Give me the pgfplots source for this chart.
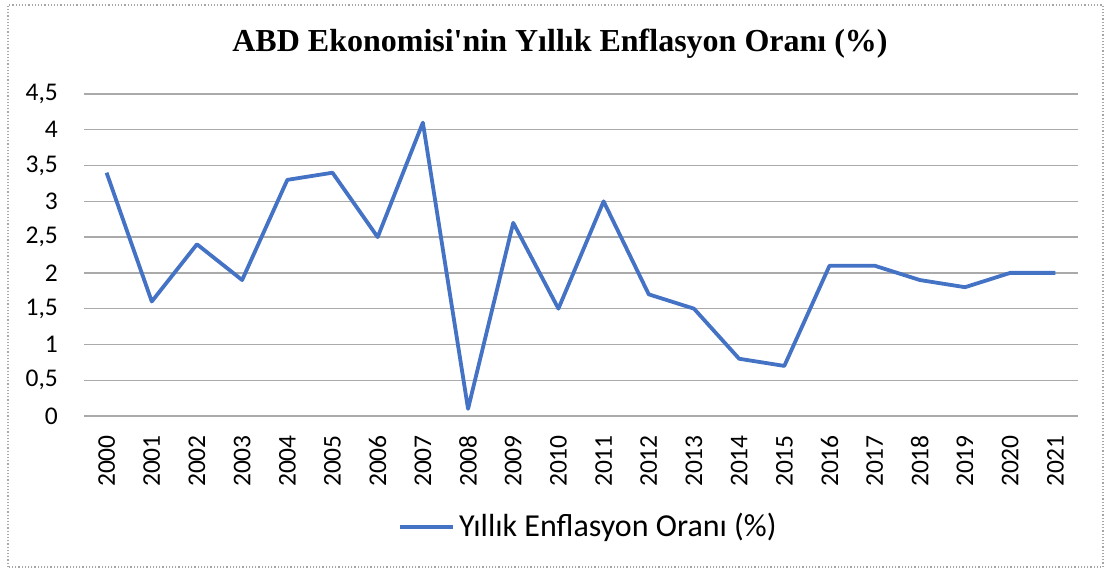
\documentclass[border=0pt]{standalone}
\usepackage{fontspec}
\setmainfont{Carlito}
\newfontfamily\titlefont{Liberation Serif}
\usepackage{pgfplots}
\pgfplotsset{compat=1.18}
\definecolor{lineblue}{RGB}{68,114,196}
\definecolor{gridgray}{RGB}{170,170,170}

\pgfplotstableread{
year val
0 3.4
1 1.6
2 2.4
3 1.9
4 3.3
5 3.4
6 2.5
7 4.1
8 0.1
9 2.7
10 1.5
11 3.0
12 1.7
13 1.5
14 0.8
15 0.7
16 2.1
17 2.1
18 1.9
19 1.8
20 2.0
21 2.0
}\inflation

\begin{document}
\begin{tikzpicture}[x=1pt,y=1pt]
\useasboundingbox (0,0) rectangle (1105,570);
\draw[gray!70, dotted, line width=1.2pt] (8,3) rectangle (1103,565);

\begin{axis}[
  at={(84pt,154pt)}, anchor=south west,
  scale only axis,
  width=994pt, height=322pt,
  xmin=-0.5, xmax=21.5,
  ymin=0, ymax=4.5,
  axis line style={draw=none},
  ymajorgrids,
  grid style={gridgray, line width=1.4pt},
  xtick={0,...,21},
  xticklabels={2000,2001,2002,2003,2004,2005,2006,2007,2008,2009,2010,2011,2012,2013,2014,2015,2016,2017,2018,2019,2020,2021},
  ytick={0,0.5,...,4.5},
  major tick length=0pt,
  tick style={draw=none},
  /pgf/number format/assume math mode=true,
  /pgf/number format/use comma,
  tick label style={font=\fontsize{25.5}{28}\selectfont, inner sep=0pt},
  xticklabel style={rotate=90, anchor=east},
  xticklabel shift=19pt,
  yticklabel style={anchor=east},
  yticklabel shift=26pt,
  clip=false,
]
\addplot[lineblue, line width=3.8pt, line join=round] table[x=year, y=val] {\inflation};
\end{axis}

\node[font=\titlefont\bfseries\fontsize{32}{35}\selectfont] at (560,526) {ABD Ekonomisi'nin Yıllık Enflasyon Oranı (\%)};
\draw[lineblue, line width=3.8pt] (400,43) -- (453,43);
\node[anchor=west, inner sep=0pt, font=\fontsize{32}{35}\selectfont] at (459,43) {Yıllık Enflasyon Oranı (\%)};
\end{tikzpicture}
\end{document}
